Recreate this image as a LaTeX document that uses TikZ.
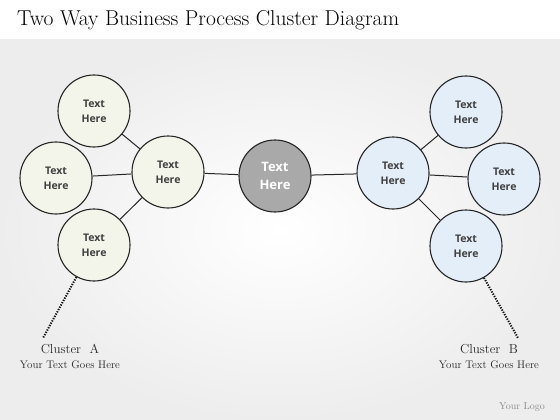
\documentclass[tikz,border=0pt]{standalone}
\usepackage{fontspec}
\newfontfamily\bubblefont{Open Sans}
\usetikzlibrary{positioning}
\definecolor{paleA}{HTML}{F3F5EA}
\definecolor{paleB}{HTML}{E3EEF9}
\definecolor{hubgray}{HTML}{A9A9A9}
\tikzset{bubble/.style = {circle, draw=black!85, line width=1.1pt, minimum size=72pt,
                          inner sep=0pt, align=center, text=black!75,
                          font=\bubblefont\bfseries\fontsize{10.5}{15}\selectfont}}
\tikzset{bubbleA/.style = {bubble, fill=paleA},
         bubbleB/.style = {bubble, fill=paleB},
         hub/.style = {bubble, fill=hubgray, text=white,
                       font=\bubblefont\bfseries\fontsize{13}{18}\selectfont}}
\tikzset{link/.style = {draw=black!85, line width=1pt},
         leader/.style = {draw=black!90, line width=2pt, dash pattern=on 1.3pt off 1.3pt}}
\tikzset{cluster/.style = {font=\fontsize{13}{15}\selectfont, text=black!85},
         note/.style = {font=\fontsize{11}{13}\selectfont, text=black!85, inner sep=0pt}}

\begin{document}
\begin{tikzpicture}[x=1pt,y=-1pt]
		\useasboundingbox (0,0) rectangle (560,420);
		\fill[white] (0,0) rectangle (560,40);
		\shade[inner color=white, outer color=black!7] (0,40) rectangle (560,420);
		
		\node[anchor=west, inner sep=0pt, font=\fontsize{21.5}{24}\selectfont] (title) at (17,20)
		{Two Way Business Process Cluster Diagram};
		
		% cluster A
		\node[bubbleA] (a0) at (168,172) {Text\\Here};
		\node[bubbleA] (a1) at (94,111) {Text\\Here};
		\node[bubbleA] (a2) at (56,178) {Text\\Here};
		\node[bubbleA] (a3) at (94,245) {Text\\Here};
		
		% middle
		\node[hub] (c) at (275,176) {Text\\Here};
		
		% cluster B
		\node[bubbleB] (b0) at (393,173) {Text\\Here};
		\node[bubbleB] (b1) at (466,112) {Text\\Here};
		\node[bubbleB] (b2) at (504,179) {Text\\Here};
		\node[bubbleB] (b3) at (466,246) {Text\\Here};
		
		\draw[link] (a0) -- (a1);
		\draw[link] (a0) -- (a2);
		\draw[link] (a0) -- (a3);
		\draw[link] (a0) -- (c);
		\draw[link] (c) -- (b0);
		\draw[link] (b0) -- (b1);
		\draw[link] (b0) -- (b2);
		\draw[link] (b0) -- (b3);
		
		\coordinate (ta) at (43,338);
		\coordinate (tb) at (518,338);
		\draw[leader] (a3) -- (ta);
		\draw[leader] (b3) -- (tb);
		
		\node[cluster] (la) at (70,349) {Cluster\ \ A};
		\node[note, below=3pt of la] (na) {Your Text Goes Here};
		\node[cluster] (lb) at (489,349) {Cluster\ \ B};
		\node[note, below=3pt of lb] (nb) {Your Text Goes Here};
		
		\node[font=\fontsize{10}{12}\selectfont, text=black!45] (logo) at (522,407) {Your Logo};
\end{tikzpicture}
\end{document}
